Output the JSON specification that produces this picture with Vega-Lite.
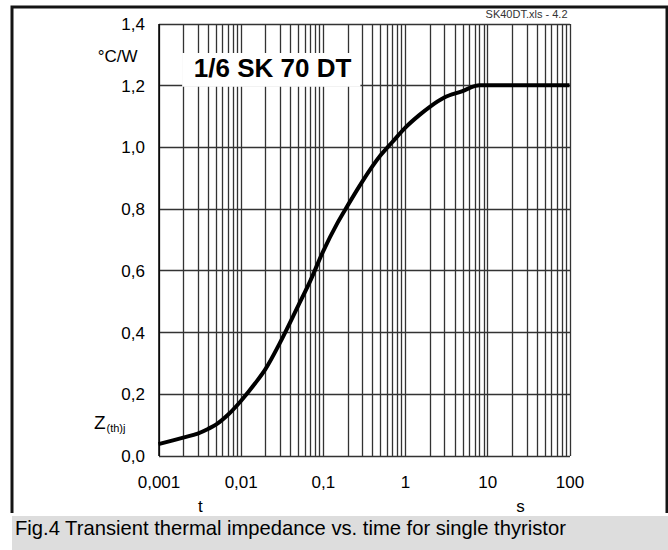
{
  "$schema": "https://vega.github.io/schema/vega-lite/v6.json",
  "padding": {"left": 10, "top": 5, "right": 0, "bottom": 0},
  "background": "white",
  "config": {
    "font": "Liberation Sans",
    "concat": {"spacing": 0}
  },
  "spacing": 0,
  "vconcat": [
    {
      "width": 655,
      "height": 506,
      "view": {"fill": "white", "stroke": "#141414", "strokeWidth": 3, "strokeDash": [1161, 655, 506, 20]},
      "data": {"values": [
        {"t": 0.001, "z": 0.037},
        {"t": 0.0015, "z": 0.049},
        {"t": 0.002, "z": 0.058},
        {"t": 0.003, "z": 0.071},
        {"t": 0.004, "z": 0.086},
        {"t": 0.005, "z": 0.1},
        {"t": 0.007, "z": 0.132},
        {"t": 0.01, "z": 0.176},
        {"t": 0.015, "z": 0.234},
        {"t": 0.02, "z": 0.28},
        {"t": 0.03, "z": 0.365},
        {"t": 0.05, "z": 0.485},
        {"t": 0.07, "z": 0.565},
        {"t": 0.1, "z": 0.66},
        {"t": 0.15, "z": 0.753},
        {"t": 0.2, "z": 0.81},
        {"t": 0.3, "z": 0.887},
        {"t": 0.5, "z": 0.972},
        {"t": 0.7, "z": 1.016},
        {"t": 1, "z": 1.062},
        {"t": 1.5, "z": 1.104},
        {"t": 2, "z": 1.13},
        {"t": 3, "z": 1.16},
        {"t": 5, "z": 1.181},
        {"t": 7, "z": 1.197},
        {"t": 8, "z": 1.2},
        {"t": 100, "z": 1.2}
      ]},
      "layer": [
        {
          "mark": {"type": "line", "color": "black", "strokeWidth": 4, "interpolate": "monotone"},
          "encoding": {
            "x": {
              "field": "t", "type": "quantitative",
              "scale": {"type": "log", "domain": [0.001, 100], "range": [146.5, 557.5], "nice": false},
              "axis": {
                "title": null,
                "orient": "top",
                "values": [0.001,0.002,0.003,0.004,0.005,0.006,0.007,0.008,0.009,0.01,0.02,0.03,0.04,0.05,0.06,0.07,0.08,0.09,0.1,0.2,0.3,0.4,0.5,0.6,0.7,0.8,0.9,1,2,3,4,5,6,7,8,9,10,20,30,40,50,60,70,80,90,100],
                "labelExpr": "indexof([0.001,0.01,0.1,1,10,100], datum.value) >= 0 ? replace(toString(datum.value), '.', ',') : ''",
                "grid": true, "gridColor": "#333333", "gridWidth": 1.3,
                "ticks": false, "tickSize": 0,
                "domain": false,
                "offset": -467.5,
                "labelPadding": 0,
                "labelBaseline": "top",
                "labelFontSize": 17, "labelColor": "black", "labelFont": "Liberation Sans",
                "labelOverlap": false, "labelBound": false, "labelFlush": false
              }
            },
            "y": {
              "field": "z", "type": "quantitative",
              "scale": {"domain": [0, 1.4], "range": [448.5, 16.5], "nice": false, "zero": false},
              "axis": {
                "title": null,
                "values": [0,0.1,0.2,0.3,0.4,0.5,0.6,0.7,0.8,0.9,1,1.1,1.2,1.3,1.4],
                "labelExpr": "indexof([0,0.2,0.4,0.6,0.8,1,1.2,1.4], datum.value) >= 0 ? replace(format(datum.value, '.1f'), '.', ',') : ''",
                "grid": true, "gridColor": "#333333", "gridWidth": 1.3,
                "ticks": false, "tickSize": 0,
                "domain": true, "domainColor": "black", "domainWidth": 1.5,
                "offset": -146.5,
                "labelPadding": 14,
                "labelOffset": 1,
                "labelFontSize": 17, "labelColor": "black", "labelFont": "Liberation Sans",
                "labelOverlap": false, "labelBound": false, "labelFlush": false
              }
            }
          }
        },
        {
          "data": {"values": [{"label": "1/6 SK 70 DT"}]},
          "mark": {"type": "rect", "fill": "white"},
          "encoding": {
            "x": {"datum": 0.00194, "type": "quantitative"},
            "x2": {"datum": 0.286},
            "y": {"datum": 1.304, "type": "quantitative"},
            "y2": {"datum": 1.195}
          }
        },
        {
          "data": {"values": [{"label": "1/6 SK 70 DT"}]},
          "mark": {"type": "text", "fontSize": 26, "fontWeight": "bold", "align": "center", "baseline": "middle", "color": "black"},
          "encoding": {
            "text": {"field": "label"},
            "x": {"datum": 0.0244, "type": "quantitative"},
            "y": {"datum": 1.251, "type": "quantitative"}
          }
        },
        {
          "data": {"values": [{"label": "SK40DT.xls - 4.2"}]},
          "mark": {"type": "text", "fontSize": 11, "align": "right", "baseline": "middle", "color": "#333333", "dx": -2, "dy": -9},
          "encoding": {
            "text": {"field": "label"},
            "x": {"datum": 100, "type": "quantitative"},
            "y": {"datum": 1.4, "type": "quantitative"}
          }
        },
        {
          "data": {"values": [{"label": "°C/W"}]},
          "mark": {"type": "text", "fontSize": 17, "align": "right", "baseline": "middle", "color": "black", "dx": -21, "dy": 3},
          "encoding": {
            "text": {"field": "label"},
            "x": {"datum": 0.001, "type": "quantitative"},
            "y": {"datum": 1.3, "type": "quantitative"}
          }
        },
        {
          "data": {"values": [{"label": "Z"}]},
          "mark": {"type": "text", "fontSize": 19, "align": "right", "baseline": "middle", "color": "black", "dx": -53, "dy": -2},
          "encoding": {
            "text": {"field": "label"},
            "x": {"datum": 0.001, "type": "quantitative"},
            "y": {"datum": 0.1, "type": "quantitative"}
          }
        },
        {
          "data": {"values": [{"label": "(th)j"}]},
          "mark": {"type": "text", "fontSize": 11, "align": "left", "baseline": "middle", "color": "black", "dx": -52, "dy": 4},
          "encoding": {
            "text": {"field": "label"},
            "x": {"datum": 0.001, "type": "quantitative"},
            "y": {"datum": 0.1, "type": "quantitative"}
          }
        },
        {
          "data": {"values": [{"label": "t"}]},
          "mark": {"type": "text", "fontSize": 17, "align": "center", "baseline": "middle", "color": "black", "dy": 51},
          "encoding": {
            "text": {"field": "label"},
            "x": {"datum": 0.00324, "type": "quantitative"},
            "y": {"datum": 0, "type": "quantitative"}
          }
        },
        {
          "data": {"values": [{"label": "s"}]},
          "mark": {"type": "text", "fontSize": 17, "align": "center", "baseline": "middle", "color": "black", "dy": 51},
          "encoding": {
            "text": {"field": "label"},
            "x": {"datum": 25.4, "type": "quantitative"},
            "y": {"datum": 0, "type": "quantitative"}
          }
        }
      ]
    },
    {
      "width": 657,
      "height": 36,
      "view": {"fill": "#dddddd", "stroke": null},
      "data": {"values": [{"caption": "Fig.4 Transient thermal impedance vs. time for single thyristor"}]},
      "mark": {"type": "text", "align": "left", "baseline": "middle", "fontSize": 20.2, "dx": 3, "dy": -5, "color": "black"},
      "encoding": {
        "text": {"field": "caption"},
        "x": {"datum": 0, "type": "quantitative", "scale": {"domain": [0, 1]}, "axis": null}
      }
    }
  ]
}
